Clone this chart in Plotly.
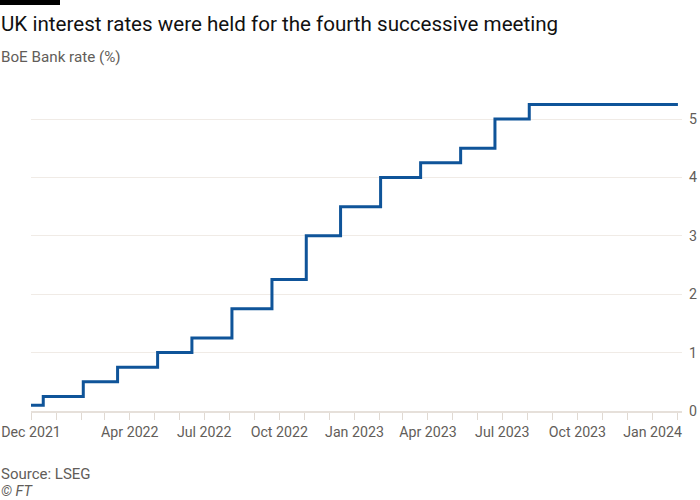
import plotly.graph_objects as go

# BoE Bank rate decisions (date the new rate took effect)
dates = ["2021-12-01", "2021-12-16", "2022-02-03", "2022-03-17", "2022-05-05",
         "2022-06-16", "2022-08-04", "2022-09-22", "2022-11-03", "2022-12-15",
         "2023-02-02", "2023-03-23", "2023-05-11", "2023-06-22", "2023-08-03",
         "2024-02-01"]
rates = [0.1, 0.25, 0.5, 0.75, 1.0, 1.25, 1.75, 2.25, 3.0, 3.5,
         4.0, 4.25, 4.5, 5.0, 5.25, 5.25]

tick_vals = ["2021-12-01", "2022-04-01", "2022-07-01", "2022-10-01", "2023-01-01",
             "2023-04-01", "2023-07-01", "2023-10-01", "2024-01-01"]
tick_text = ["Dec 2021", "Apr 2022", "Jul 2022", "Oct 2022", "Jan 2023",
             "Apr 2023", "Jul 2023", "Oct 2023", "Jan 2024"]

W, H = 700, 500
L, R, T, B = 31, 18, 84, 89
pw, ph = W - L - R, H - T - B


def px(x):
    return (x - L) / pw


def py(y):
    return (H - B - y) / ph


fig = go.Figure()
fig.add_trace(go.Scatter(
    x=dates, y=rates, mode="lines", line_shape="hv",
    line=dict(color="#0f5499", width=3), hoverinfo="x+y",
))

grey = "#625d59"
fig.update_layout(
    width=W, height=H,
    margin=dict(l=L, r=R, t=T, b=B, autoexpand=False),
    paper_bgcolor="white", plot_bgcolor="white",
    showlegend=False,
    font=dict(family="Roboto", color=grey, size=14),
    xaxis=dict(
        type="date", range=["2021-12-01", "2024-02-06"],
        tickvals=tick_vals, ticktext=tick_text, automargin=False,
        ticks="outside", ticklen=7, tickcolor="#e0d9d2", tickwidth=1,
        minor=dict(dtick="M1", tick0="2021-12-01", ticks="outside",
                   ticklen=7, tickcolor="#e0d9d2", showgrid=False),
        showgrid=False, showline=True, linecolor="#e6e0da", linewidth=2,
        zeroline=False, tickfont=dict(size=14.2, color=grey),
    ),
    yaxis=dict(
        side="right", range=[0, 5.6], tickvals=[0, 1, 2, 3, 4, 5],
        showgrid=True, gridcolor="#f0ebe6", gridwidth=1, automargin=False,
        zeroline=False, showline=False, ticks="",
        ticklabelstandoff=6, tickfont=dict(size=14.2, color=grey),
    ),
    shapes=[dict(type="rect", xref="paper", yref="paper",
                 x0=px(0), x1=px(60), y0=py(5), y1=py(0),
                 fillcolor="black", line_width=0)],
    annotations=[
        dict(text="UK interest rates were held for the fourth successive meeting",
             xref="paper", yref="paper", x=px(-1), y=py(24), xanchor="left", yanchor="middle",
             showarrow=False, font=dict(size=20.6, color="#111111")),
        dict(text="BoE Bank rate (%)",
             xref="paper", yref="paper", x=px(-1), y=py(57), xanchor="left", yanchor="middle",
             showarrow=False, font=dict(size=15.2, color=grey)),
        dict(text="Source: LSEG",
             xref="paper", yref="paper", x=px(-1), y=py(474), xanchor="left", yanchor="middle",
             showarrow=False, font=dict(size=15, color=grey)),
        dict(text="<i>© FT</i>",
             xref="paper", yref="paper", x=px(-1), y=py(491), xanchor="left", yanchor="middle",
             showarrow=False, font=dict(size=14.5, color=grey)),
    ],
)

fig.write_html("out.html", config={"displayModeBar": False},
               post_script="document.body.style.margin='0';")
